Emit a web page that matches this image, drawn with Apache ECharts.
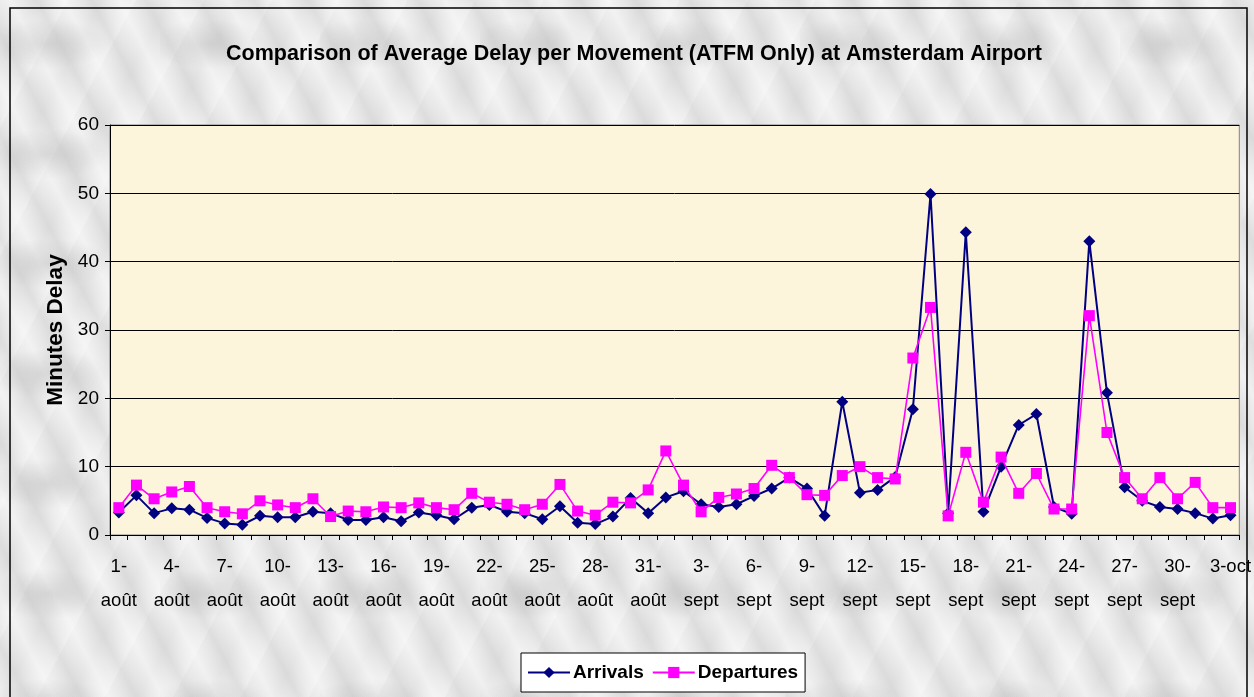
<!DOCTYPE html>
<html>
<head>
<meta charset="utf-8">
<script src="https://cdn.jsdelivr.net/npm/echarts@6/dist/echarts.min.js"></script>
<style>
  html, body { margin: 0; padding: 0; }
  body {
    width: 1254px; height: 697px; overflow: hidden;
    background-color: #e9e9e9;
    background-image:
      radial-gradient(ellipse 60px 25px at 30% 40%, rgba(170,170,170,0.35), rgba(170,170,170,0) 100%),
      repeating-linear-gradient(62deg, rgba(255,255,255,0.45) 0px, rgba(255,255,255,0) 14px, rgba(175,175,175,0.18) 24px, rgba(255,255,255,0) 34px, rgba(255,255,255,0.45) 48px),
      repeating-linear-gradient(118deg, rgba(255,255,255,0) 0px, rgba(200,200,200,0.18) 30px, rgba(255,255,255,0.25) 60px);
    background-size: 160px 110px, auto, auto;
  }
  #chart { width: 1254px; height: 697px; }
</style>
</head>
<body>
<div id="chart"></div>
<script>
// date labels, one per day from 1 August to 3 October
const days = [
  "1-août", "2-août", "3-août", "4-août", "5-août", "6-août", "7-août", "8-août",
  "9-août", "10-août", "11-août", "12-août", "13-août", "14-août", "15-août", "16-août",
  "17-août", "18-août", "19-août", "20-août", "21-août", "22-août", "23-août", "24-août",
  "25-août", "26-août", "27-août", "28-août", "29-août", "30-août", "31-août",
  "1-sept", "2-sept", "3-sept", "4-sept", "5-sept", "6-sept", "7-sept", "8-sept",
  "9-sept", "10-sept", "11-sept", "12-sept", "13-sept", "14-sept", "15-sept", "16-sept",
  "17-sept", "18-sept", "19-sept", "20-sept", "21-sept", "22-sept", "23-sept", "24-sept",
  "25-sept", "26-sept", "27-sept", "28-sept", "29-sept", "30-sept",
  "1-oct", "2-oct", "3-oct"
];

const arrivals = [
  3.3, 5.8, 3.2, 3.9, 3.7, 2.5, 1.7, 1.5, 2.8, 2.6, 2.6, 3.4, 3.2, 2.2, 2.2, 2.6,
  2.0, 3.3, 2.9, 2.3, 4.0, 4.4, 3.4, 3.2, 2.3, 4.2, 1.8, 1.6, 2.7, 5.4, 3.2, 5.5,
  6.4, 4.5, 4.1, 4.5, 5.7, 6.8, 8.4, 6.8, 2.8, 19.5, 6.2, 6.6, 8.5, 18.4, 49.9, 3.2,
  44.3, 3.4, 10.0, 16.1, 17.7, 4.1, 3.1, 43.0, 20.8, 7.0, 5.0, 4.1, 3.8, 3.2, 2.4, 2.9
];

const departures = [
  4.0, 7.3, 5.3, 6.3, 7.1, 4.0, 3.4, 3.1, 5.0, 4.4, 4.0, 5.3, 2.7, 3.5, 3.4, 4.1,
  4.0, 4.7, 4.0, 3.7, 6.1, 4.8, 4.5, 3.7, 4.5, 7.4, 3.5, 2.9, 4.8, 4.7, 6.6, 12.3,
  7.3, 3.4, 5.5, 6.0, 6.8, 10.2, 8.4, 5.9, 5.8, 8.7, 10.0, 8.4, 8.2, 25.9, 33.3, 2.8,
  12.1, 4.8, 11.4, 6.1, 9.0, 3.8, 3.8, 32.1, 15.0, 8.4, 5.3, 8.4, 5.3, 7.7, 4.0, 4.0
];

const yTicks = { min: 0, max: 60, interval: 10 };

const FONT = "Arial, 'Liberation Sans', sans-serif";

const chart = echarts.init(document.getElementById("chart"), null, { renderer: "canvas" });

chart.setOption({
  backgroundColor: "transparent",
  animation: false,
  title: {
    text: "Comparison of Average Delay per Movement (ATFM Only) at Amsterdam Airport",
    left: 629,
    textAlign: "center",
    top: 38,
    textStyle: { fontFamily: FONT, fontSize: 21.5, fontWeight: "bold", color: "#000" }
  },
  legend: {
    data: ["Arrivals", "Departures"],
    left: 521,
    top: 653,
    width: 286,
    padding: [10, 7, 10, 6],
    itemGap: 8,
    itemWidth: 42,
    itemHeight: 14,
    backgroundColor: "#fff",
    borderColor: "#000",
    borderWidth: 1,
    borderRadius: 0,
    selectedMode: false,
    textStyle: { fontFamily: FONT, fontSize: 19, fontWeight: "bold", color: "#000", padding: [0, 0, 0, -2] }
  },
  grid: {
    left: 110, right: 9, top: 125, bottom: 162,
    show: true,
    backgroundColor: "#fdf4dc",
    borderColor: "#808080",
    borderWidth: 1
  },
  xAxis: {
    type: "category",
    data: days,
    boundaryGap: true,
    axisLine: { lineStyle: { color: "#000", width: 1 } },
    axisTick: { show: true, interval: 0, length: 5, inside: false, lineStyle: { color: "#000" } },
    axisLabel: {
      interval: 2,
      margin: 15,
      lineHeight: 34,
      fontFamily: FONT,
      fontSize: 18.5,
      color: "#000",
      formatter: v => (v.indexOf("oct") >= 0 ? v : v.replace("-", "-\n"))
    },
    splitLine: { show: false }
  },
  yAxis: {
    type: "value",
    min: yTicks.min,
    max: yTicks.max,
    interval: yTicks.interval,
    name: "Minutes Delay",
    nameLocation: "middle",
    nameGap: 42,
    nameTextStyle: { fontFamily: FONT, fontSize: 22.5, fontWeight: "bold", color: "#000" },
    axisLine: { show: true, lineStyle: { color: "#000", width: 1 } },
    axisTick: { show: true, length: 5, lineStyle: { color: "#000" } },
    axisLabel: { margin: 11, fontFamily: FONT, fontSize: 19, color: "#000" },
    splitLine: { show: true, lineStyle: { color: "#000", width: 1 } }
  },
  series: [
    {
      name: "Arrivals",
      type: "line",
      data: arrivals,
      symbol: "diamond",
      symbolSize: 12,
      showAllSymbol: true,
      lineStyle: { color: "#000080", width: 2 },
      itemStyle: { color: "#000080" },
      z: 2
    },
    {
      name: "Departures",
      type: "line",
      data: departures,
      symbol: "rect",
      symbolSize: 11,
      showAllSymbol: true,
      lineStyle: { color: "#ff00ff", width: 1.6 },
      itemStyle: { color: "#ff00ff" },
      z: 3
    }
  ],
  graphic: [
    {
      type: "rect",
      silent: true,
      z: 100,
      shape: { x: 10, y: 8, width: 1237, height: 720 },
      style: { fill: "none", stroke: "#000", lineWidth: 1.5 }
    }
  ]
});
</script>
</body>
</html>
